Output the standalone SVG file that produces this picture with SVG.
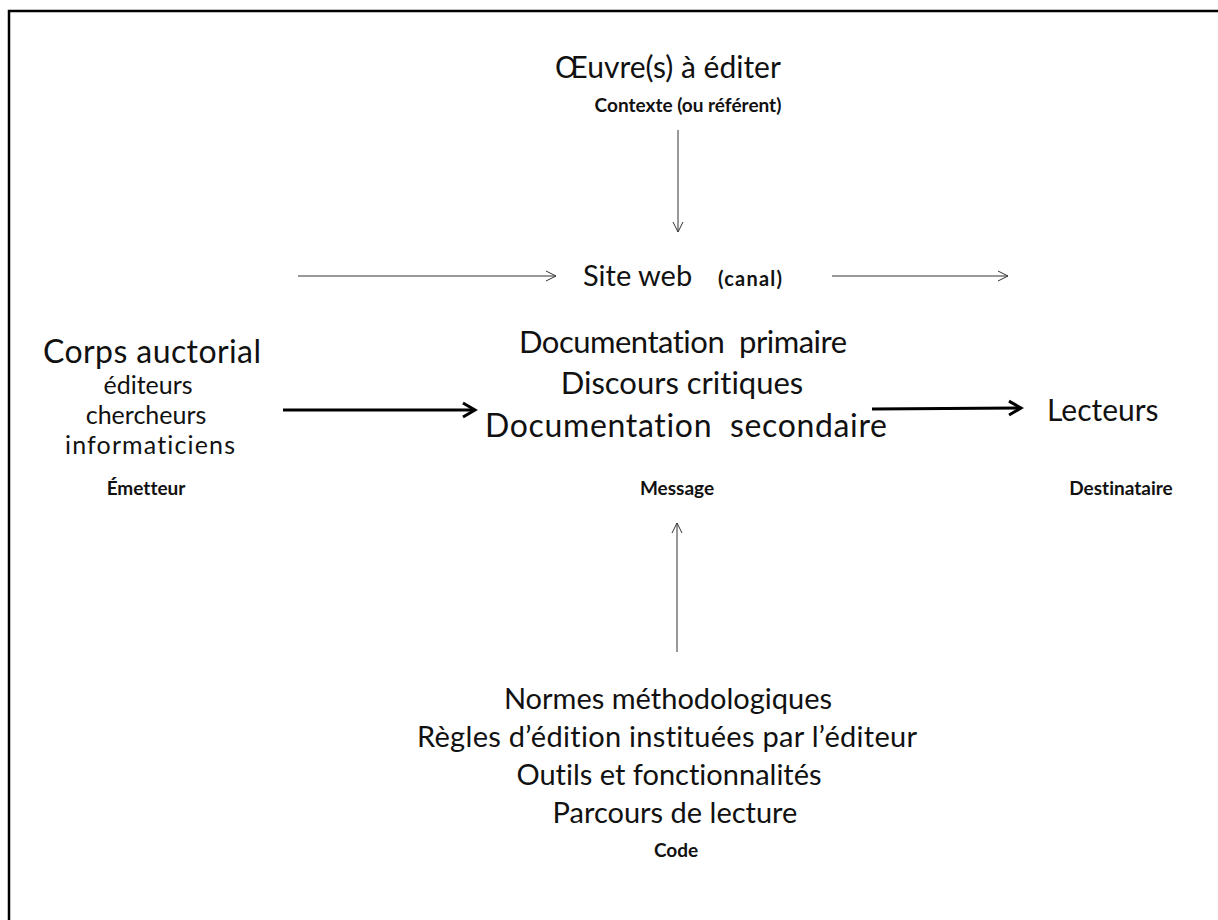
<svg xmlns="http://www.w3.org/2000/svg" width="1218" height="920" viewBox="0 0 1218 920">
  <style>
    text { font-family: Lato, "Open Sans", "Liberation Sans", sans-serif; fill: #111; text-anchor: middle; font-variant-ligatures: none; white-space: pre; }
    .big { font-size: 29px; }
    .doc { font-size: 31px; }
    .mid { font-size: 25px; }
    .lbl { font-size: 19px; font-weight: bold; }
    .thin { stroke: #333; stroke-width: 1; fill: none; }
    .thick { stroke: #000; stroke-width: 3; fill: none; }
  </style>
  <defs>
    <marker id="openThin" markerWidth="14" markerHeight="14" refX="12" refY="7" orient="auto" markerUnits="userSpaceOnUse">
      <path d="M2,2 L12,7 L2,12" fill="none" stroke="#333" stroke-width="1"/>
    </marker>
    <marker id="openThick" markerWidth="20" markerHeight="20" refX="17" refY="10" orient="auto" markerUnits="userSpaceOnUse">
      <path d="M5,3 L17,10 L5,17" fill="none" stroke="#000" stroke-width="3"/>
    </marker>
  </defs>
  <rect width="1218" height="920" fill="#fff"/>
  <!-- outer frame, running off the right and bottom edges -->
  <rect x="9" y="11" width="1220" height="920" fill="none" stroke="#000" stroke-width="2.5"/>

  <g id="connectors">
    <line class="thin" x1="678" y1="130" x2="678" y2="232" marker-end="url(#openThin)"/>
    <line class="thin" x1="298" y1="276" x2="556" y2="276" marker-end="url(#openThin)"/>
    <line class="thin" x1="832" y1="276" x2="1008" y2="276" marker-end="url(#openThin)"/>
    <line class="thick" x1="283" y1="410" x2="475" y2="410" marker-end="url(#openThick)"/>
    <line class="thick" x1="872" y1="409" x2="1021" y2="408" marker-end="url(#openThick)"/>
    <line class="thin" x1="677" y1="652" x2="677" y2="523" marker-end="url(#openThin)"/>
  </g>

  <g id="contexte">
    <text x="668" y="78" style="font-size:30px">Œuvre(s) à éditer</text>
    <text class="lbl" x="688" y="112">Contexte (ou référent)</text>
  </g>

  <g id="canal">
    <text x="583" y="286" style="text-anchor:start;font-size:29px">Site web</text>
    <text x="718" y="286" style="text-anchor:start;font-size:20px;font-weight:bold" textLength="64">(canal)</text>
  </g>

  <g id="emetteur">
    <text x="152" y="363" style="font-size:32px" textLength="218">Corps auctorial</text>
    <text class="mid" x="148" y="394">éditeurs</text>
    <text class="mid" x="146" y="424">chercheurs</text>
    <text class="mid" x="150" y="454" textLength="170">informaticiens</text>
    <text class="lbl" x="146" y="495">Émetteur</text>
  </g>

  <g id="message">
    <text class="doc" x="683" y="353" textLength="328">Documentation  primaire</text>
    <text class="doc" x="682" y="394">Discours critiques</text>
    <text class="doc" x="686" y="437" style="font-size:32px" textLength="402">Documentation  secondaire</text>
    <text class="lbl" x="677" y="495">Message</text>
  </g>

  <g id="destinataire">
    <text x="1047" y="421" style="text-anchor:start;font-size:30px">Lecteurs</text>
    <text class="lbl" x="1121" y="495">Destinataire</text>
  </g>

  <g id="code">
    <text class="big" x="668" y="709">Normes méthodologiques</text>
    <text class="big" x="667" y="747" textLength="500">Règles d’édition instituées par l’éditeur</text>
    <text class="big" x="669" y="785">Outils et fonctionnalités</text>
    <text class="big" x="675" y="823">Parcours de lecture</text>
    <text class="lbl" x="676" y="857">Code</text>
  </g>
</svg>
